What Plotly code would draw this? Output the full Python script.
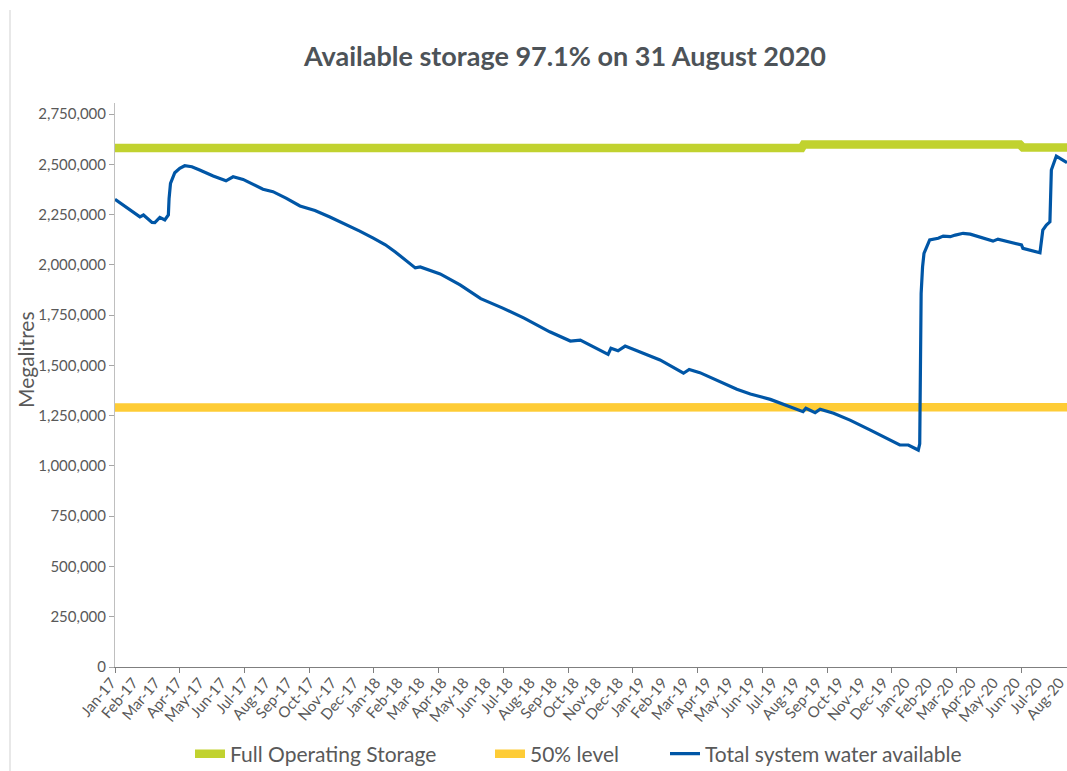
import datetime as dt
import plotly.graph_objects as go

# ---------------- data ----------------
water_dates = [
    "2017-01-01", "2017-02-05", "2017-02-10", "2017-02-15", "2017-02-22", "2017-02-26",
    "2017-03-05", "2017-03-12", "2017-03-17", "2017-03-18", "2017-03-20", "2017-03-26",
    "2017-04-02", "2017-04-09", "2017-04-19", "2017-04-30", "2017-05-19", "2017-06-06",
    "2017-06-16", "2017-06-30", "2017-07-28", "2017-08-11", "2017-08-30", "2017-09-18",
    "2017-10-09", "2017-10-30", "2017-11-20", "2017-11-30", "2017-12-11", "2017-12-30",
    "2018-01-16", "2018-01-30", "2018-02-20", "2018-02-27", "2018-03-06", "2018-04-03",
    "2018-05-01", "2018-05-30", "2018-06-30", "2018-07-30", "2018-09-04", "2018-10-03",
    "2018-10-17", "2018-11-25", "2018-11-29", "2018-12-09", "2018-12-19", "2019-01-09",
    "2019-02-06", "2019-03-11", "2019-03-19", "2019-04-03", "2019-04-27", "2019-05-25",
    "2019-06-13", "2019-07-11", "2019-08-26", "2019-08-30", "2019-09-12", "2019-09-19",
    "2019-10-08", "2019-10-31", "2019-11-28", "2020-01-09", "2020-01-21", "2020-02-04",
    "2020-02-06", "2020-02-07", "2020-02-08", "2020-02-10", "2020-02-12", "2020-02-20",
    "2020-03-03", "2020-03-10", "2020-03-20", "2020-03-27", "2020-04-07", "2020-04-17",
    "2020-05-01", "2020-05-19", "2020-05-26", "2020-06-16", "2020-06-28", "2020-06-30",
    "2020-07-24", "2020-07-28", "2020-08-02", "2020-08-07", "2020-08-09", "2020-08-16",
    "2020-08-26", "2020-08-31",
]
water_values = [
    2326000, 2239000, 2248000, 2232000, 2211000, 2210000,
    2236000, 2223000, 2248000, 2330000, 2405000, 2458000,
    2480000, 2493000, 2488000, 2472000, 2442000, 2418000,
    2438000, 2425000, 2376000, 2364000, 2331000, 2293000,
    2270000, 2238000, 2203000, 2188000, 2168000, 2133000,
    2100000, 2064000, 2005000, 1985000, 1990000, 1955000,
    1900000, 1832000, 1785000, 1735000, 1667000, 1621000,
    1626000, 1555000, 1585000, 1573000, 1596000, 1568000,
    1527000, 1461000, 1480000, 1464000, 1427000, 1381000,
    1358000, 1331000, 1270000, 1287000, 1265000, 1282000,
    1262000, 1228000, 1179000, 1104000, 1104000, 1079000,
    1110000, 1450000, 1858000, 1990000, 2057000, 2124000,
    2132000, 2143000, 2140000, 2148000, 2157000, 2153000,
    2137000, 2118000, 2128000, 2107000, 2099000, 2082000,
    2060000, 2173000, 2198000, 2214000, 2472000, 2541000,
    2521000, 2508000,
]

level_dates = ["2017-01-01", "2019-08-24", "2019-08-27", "2020-06-26", "2020-06-30", "2020-08-31"]
full_storage_values = [2581000, 2581000, 2598000, 2598000, 2584000, 2584000]
half_level_values = [1290500, 1290500, 1299000, 1299000, 1292000, 1292000]

month_labels = [
    "Jan-17", "Feb-17", "Mar-17", "Apr-17", "May-17", "Jun-17", "Jul-17", "Aug-17",
    "Sep-17", "Oct-17", "Nov-17", "Dec-17",
    "Jan-18", "Feb-18", "Mar-18", "Apr-18", "May-18", "Jun-18", "Jul-18", "Aug-18",
    "Sep-18", "Oct-18", "Nov-18", "Dec-18",
    "Jan-19", "Feb-19", "Mar-19", "Apr-19", "May-19", "Jun-19", "Jul-19", "Aug-19",
    "Sep-19", "Oct-19", "Nov-19", "Dec-19",
    "Jan-20", "Feb-20", "Mar-20", "Apr-20", "May-20", "Jun-20", "Jul-20", "Aug-20",
]

series_names = ["Full Operating Storage", "50% level", "Total system water available"]
y_title = "Megalitres"
chart_title = "Available storage 97.1% on 31 August 2020"

# Category axis settings of the original (daily categories)
START = dt.date(2017, 1, 1)
END = dt.date(2020, 8, 31)
LABEL_INTERVAL_DAYS = 31
TICK_INTERVAL_DAYS = 91

label_positions = [(START + dt.timedelta(days=LABEL_INTERVAL_DAYS * k)).isoformat()
                   for k in range(len(month_labels))]
n_ticks = (END - START).days // TICK_INTERVAL_DAYS + 1
tick_positions = [(START + dt.timedelta(days=TICK_INTERVAL_DAYS * k)).isoformat()
                  for k in range(n_ticks)]

# ---------------- figure ----------------
GREEN = "#C1D22F"
YELLOW = "#FECC36"
BLUE = "#0056A6"
TEXT = "#595959"
FONT = "Lato"
W, H = 1067, 771

fig = go.Figure()
fig.add_trace(go.Scatter(x=level_dates, y=full_storage_values, mode="lines",
                         name=series_names[0], legend="legend",
                         line=dict(color=GREEN, width=8.5)))
fig.add_trace(go.Scatter(x=level_dates, y=half_level_values, mode="lines",
                         name=series_names[1], legend="legend2",
                         line=dict(color=YELLOW, width=8.5)))
fig.add_trace(go.Scatter(x=water_dates, y=water_values, mode="lines",
                         name=series_names[2], legend="legend3",
                         line=dict(color=BLUE, width=3.2)))


def legend_box(left_px):
    return dict(orientation="h", xref="container", yref="container",
                x=left_px / W, xanchor="left", y=1 - 754 / H, yanchor="middle",
                font=dict(family=FONT, size=21, color=TEXT),
                itemwidth=30, bgcolor="rgba(0,0,0,0)", borderwidth=0)


fig.update_layout(
    width=W, height=H,
    paper_bgcolor="white", plot_bgcolor="white",
    margin=dict(l=115, r=0, t=103, b=104, autoexpand=False),
    font=dict(family=FONT, color=TEXT),
    title=dict(text=f"<b>{chart_title}</b>",
               xref="container", x=565 / W, xanchor="center",
               yref="container", y=1 - 57 / H, yanchor="middle",
               font=dict(family=FONT, size=27, color="#4D5358")),
    showlegend=True,
    legend=legend_box(190),
    legend2=legend_box(490),
    legend3=legend_box(665),
    shapes=[dict(type="line", xref="paper", yref="paper",
                 x0=(10 - 115) / 952, x1=(10 - 115) / 952,
                 y0=1 + (103 - 10) / 564, y1=-(771 - 667) / 564,
                 line=dict(color="#D9D9D9", width=1.2))],
    annotations=[dict(text=y_title, textangle=-90, showarrow=False,
                      xref="paper", yref="paper",
                      x=(25 - 115) / 952, y=(667 - 360) / 564,
                      xanchor="center", yanchor="middle",
                      font=dict(family=FONT, size=21, color=TEXT))],
)

fig.update_xaxes(
    type="date", automargin=False,
    range=[START.isoformat(), END.isoformat()],
    tickmode="array", tickvals=label_positions, ticktext=month_labels,
    ticks="", tickangle=-50, ticklabeloverflow="allow", ticklabelshift=-4,
    tickfont=dict(family=FONT, size=15, color=TEXT),
    showgrid=False, zeroline=False,
    showline=True, linecolor="#7F7F7F", linewidth=1,
    minor=dict(tickmode="array", tickvals=tick_positions, ticks="outside",
               ticklen=5, tickcolor="#7F7F7F", tickwidth=1, showgrid=False),
)
fig.update_yaxes(
    automargin=False,
    range=[0, 2805000],
    tickmode="linear", tick0=0, dtick=250000, tickformat=",",
    ticks="outside", ticklen=5, tickcolor="#A6A6A6",
    tickfont=dict(family=FONT, size=15, color=TEXT),
    showgrid=False, zeroline=False,
    showline=True, linecolor="#BFBFBF", linewidth=1,
)

fig.write_html("out.html", config={"displayModeBar": False},
               post_script="document.body.style.margin='0px';")
